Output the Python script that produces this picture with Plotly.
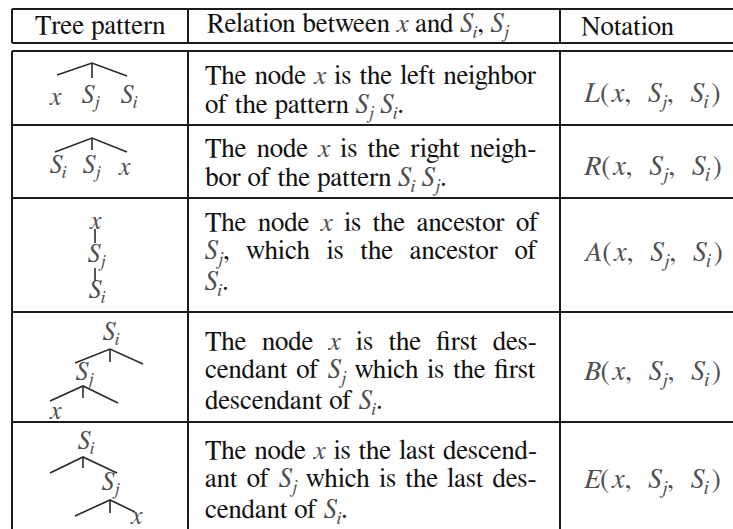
import re
import plotly.graph_objects as go

W, H = 733, 529

# ---------------- data (text content of the table) ----------------
headers = ["Tree pattern", "Relation between {x} and {Si}, {Sj}", "Notation"]

relation_lines = [
    ["The node {x} is the left neighbor", "of the pattern {Sj} {Si}."],
    ["The node {x} is the right neigh-", "bor of the pattern {Si} {Sj}."],
    ["The node {x} is the ancestor of", "{Sj}, which is the ancestor of", "{Si}."],
    ["The node {x} is the first des-", "cendant of {Sj} which is the first", "descendant of {Si}."],
    ["The node {x} is the last descend-", "ant of {Sj} which is the last des-", "cendant of {Si}."],
]

notation_letters = ["L", "R", "A", "B", "E"]
notation_args = ["x", "Sj", "Si"]

# tree patterns: node labels
tree_nodes = [
    ["x", "Sj", "Si"],
    ["Si", "Sj", "x"],
    ["x", "Sj", "Si"],
    ["Si", "Sj", "x"],
    ["Si", "Sj", "x"],
]

# ---------------- layout / style constants ----------------
MATH = "#505050"
INK = "#111111"
LINE = "#1c1c1c"
FONT = "FreeSerif"
FS = 27

col_x = [12, 188, 560]
header_top, header_bot = 9, 43
body_top = 51
row_bounds = [51, 125, 198, 312, 422, 545]
first_line_y = [76, 149, 222, 341, 450]
line_pitch = 31
notation_y = [96, 169, 255, 374, 482]
text_left, text_right = 203, 541

label_pos = [
    [(55, 97), (91, 97), (129, 97)],
    [(58, 167), (92, 167), (124, 167)],
    [(95, 221), (97, 256), (97, 292)],
    [(111, 334), (85, 374), (55, 411)],
    [(86, 443), (111, 484), (136, 516)],
]
fans = [
    [((92, 63), (57, 75), (127, 76), 78)],
    [((92, 138), (55, 152), (127, 152), 150)],
    [((95, 229), None, None, 243), ((95, 268), None, None, 281)],
    [((110, 349), (75, 363), (143, 364), 362), ((83, 386), (50, 401), (118, 403), 398)],
    [((83, 457), (50, 473), (117, 473), 468), ((110, 500), (75, 516), (135, 512), 513)],
]

# Times-compatible advance widths (per 1000 em) used to justify lines
TIMES = {" ": 250, "a": 444, "b": 500, "c": 444, "d": 500, "e": 444, "f": 333, "g": 500,
         "h": 500, "i": 278, "j": 278, "k": 500, "l": 278, "m": 778, "n": 500, "o": 500,
         "p": 500, "q": 500, "r": 333, "s": 389, "t": 278, "u": 500, "v": 500, "w": 722,
         "x": 500, "y": 500, "z": 444, "T": 611, ",": 250, ".": 250, "-": 333}
MATH_W = {"x": 444, "Si": 500 + 0.7 * 278, "Sj": 500 + 0.7 * 278}


def m(tok):
    if tok == "x":
        return f'<span style="color:{MATH}"><i>x</i></span>'
    base, sub = tok[0], tok[1]
    return f'<span style="color:{MATH}"><i>{base}<sub>{sub}</sub></i></span>'


def segments(s):
    parts = re.split(r"\{(x|Si|Sj)\}", s)
    out = []
    for k, p in enumerate(parts):
        if p == "":
            continue
        out.append(("math" if k % 2 else "text", p))
    return out


def natural_width(s, size):
    w = 0.0
    spaces = 0
    for kind, p in segments(s):
        if kind == "math":
            w += MATH_W[p]
        else:
            w += sum(TIMES.get(c, 500) for c in p)
            spaces += p.count(" ")
    return w / 1000 * size, spaces


def fmt(s, ws=0.0):
    html = ""
    for kind, p in segments(s):
        if kind == "math":
            html += m(p)
        elif ws:
            html += f'<span style="word-spacing:{ws:.2f}px">{p}</span>'
        else:
            html += p
    return html


fig = go.Figure()
shapes = []
annotations = []


def hline(y, x0, x1, w=2, c=LINE):
    shapes.append(dict(type="line", xref="x", yref="y", x0=x0, x1=x1, y0=y, y1=y,
                       line=dict(color=c, width=w)))


def vline(x, y0, y1, w=2, c=LINE):
    shapes.append(dict(type="line", xref="x", yref="y", x0=x, x1=x, y0=y0, y1=y1,
                       line=dict(color=c, width=w)))


# table frame
hline(header_top, col_x[0], W + 5)
hline(header_bot, col_x[0], W + 5)
for x in col_x:
    vline(x, header_top, header_bot)
    vline(x, body_top, H + 5)
for y in row_bounds[:-1]:
    hline(y, col_x[0], W + 5)

# header
hdr_x = [100, 205, 579]
hdr_anchor = ["center", "left", "left"]
for t, x, a in zip(headers, hdr_x, hdr_anchor):
    annotations.append(dict(x=x, y=26, xref="x", yref="y", text=fmt(t), showarrow=False,
                            xanchor=a, yanchor="middle", font=dict(family=FONT, size=FS, color=INK)))

# relation column (justified except the last line of each cell)
for r, lines in enumerate(relation_lines):
    for k, ln in enumerate(lines):
        ws = 0.0
        if k < len(lines) - 1:
            nat, n_sp = natural_width(ln, FS)
            if n_sp:
                ws = (text_right - text_left - nat) / n_sp
        annotations.append(dict(x=text_left, y=first_line_y[r] + k * line_pitch, xref="x", yref="y",
                                text=fmt(ln, ws), showarrow=False, xanchor="left", yanchor="middle",
                                font=dict(family=FONT, size=FS, color=INK)))

# notation column
for r, letter in enumerate(notation_letters):
    args = '<span style="word-spacing:10px">, </span>'.join(m(a) for a in notation_args)
    txt = (f'<span style="color:{MATH}"><i>{letter}</i></span>'
           f'<span style="color:{MATH}">(&#8202;</span>{args}'
           f'<span style="color:{MATH}">&#8202;)</span>')
    annotations.append(dict(x=582, y=notation_y[r], xref="x", yref="y", text=txt, showarrow=False,
                            xanchor="left", yanchor="middle",
                            font=dict(family=FONT, size=FS + 1, color=MATH)))

# tree patterns
for r in range(5):
    for lab, (x, y) in zip(tree_nodes[r], label_pos[r]):
        annotations.append(dict(x=x, y=y, xref="x", yref="y", text=m(lab), showarrow=False,
                                xanchor="center", yanchor="middle",
                                font=dict(family=FONT, size=26, color=MATH)))
    for apex, left, right, stick_end in fans[r]:
        ax, ay = apex
        xs, ys = [], []
        if left is not None:
            xs += [left[0], ax, right[0], None]
            ys += [left[1], ay, right[1], None]
        xs += [ax, ax]
        ys += [ay, stick_end]
        fig.add_trace(go.Scatter(x=xs, y=ys, mode="lines", hoverinfo="skip",
                                 line=dict(color="#2a2a2a", width=1.6), showlegend=False))

fig.update_layout(
    width=W, height=H, margin=dict(l=0, r=0, t=0, b=0),
    paper_bgcolor="white", plot_bgcolor="white",
    font=dict(family=FONT),
    xaxis=dict(range=[0, W], visible=False, fixedrange=True),
    yaxis=dict(range=[H, 0], visible=False, fixedrange=True),
    shapes=shapes, annotations=annotations, showlegend=False,
)

fig.write_html("out.html", config={"displayModeBar": False},
               post_script="document.body.style.margin='0';")
